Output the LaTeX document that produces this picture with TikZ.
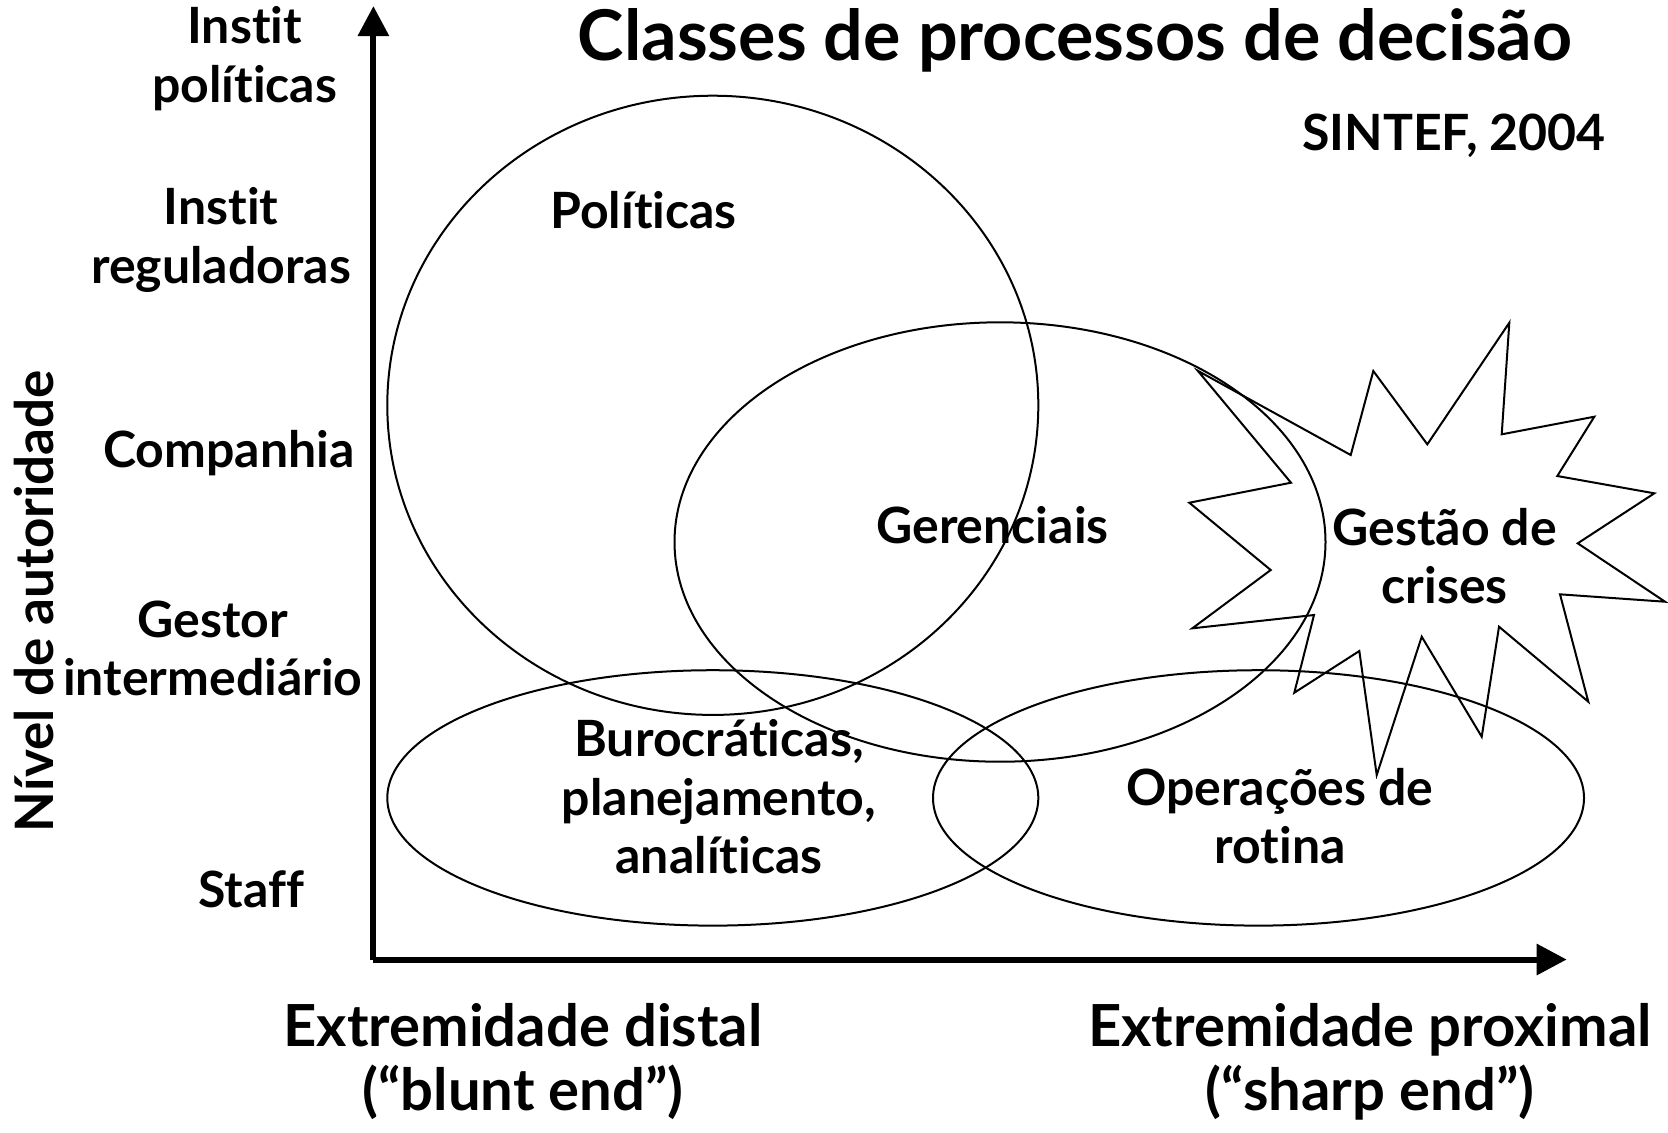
\documentclass[tikz,border=0pt]{standalone}
\usepackage{fontspec}
\setmainfont{Lato}[Ligatures={NoCommon,NoRequired,NoContextual}]
\usetikzlibrary{arrows.meta,shapes.geometric}
\begin{document}
\begin{tikzpicture}[x=0.5pt,y=-0.5pt,
  lbl/.style={font=\bfseries\fontsize{25}{29.25}\selectfont, align=center, inner sep=0pt},
  big/.style={font=\bfseries\fontsize{29}{32}\selectfont, align=center, inner sep=0pt},
  ttl/.style={font=\bfseries\fontsize{35}{40}\selectfont, inner sep=0pt},
  src/.style={font=\bfseries\fontsize{25}{26}\selectfont, inner sep=0pt},
  region/.style={ellipse, draw, line width=1pt, inner sep=0pt},
  axis/.style={line width=3pt, -{Triangle[width=15pt,length=15pt]}}]
\useasboundingbox (0,0) rectangle (1668,1132);
% regions
\node[region, minimum width=325.5pt, minimum height=309.6pt] (pol) at (712.8,405.3) {};
\node[region, minimum width=325.5pt, minimum height=219.7pt] (ger) at (1000,542) {};
\node[region, minimum width=325.5pt, minimum height=127.7pt] (bur) at (712.8,797.9) {};
\node[region, minimum width=325.5pt, minimum height=127.7pt] (ope) at (1258.5,797.9) {};
% crisis star
\draw[line width=1pt, line join=miter] (1509.3,322.7) -- (1501.7,434.3) -- (1594.3,416.7) -- (1557.3,476) -- (1654.3,493.3) -- (1577.7,543.3) -- (1665,601.7) -- (1560,594.3) -- (1588.3,701.7) -- (1499,626.7) -- (1481.7,736.7) -- (1421.7,636.7) -- (1376.7,775) -- (1359.3,651) -- (1294.3,692.7) -- (1314,615) -- (1192.3,628.3) -- (1270.7,570) -- (1189.3,502.7) -- (1291,482.7) -- (1197.7,370.7) -- (1350.7,455) -- (1373.3,371) -- (1427.3,444.3) -- cycle;
% axes
\coordinate (origin) at (373.4,959.5);
\coordinate (ytop) at (373.4,6);
\coordinate (xend) at (1566.7,959.5);
\draw[axis] (origin) -- (ytop);
\draw[axis] (origin) -- (xend);
% texts
\node[ttl] (title) at (1075,40) {Classes de processos de decisão};
\node[src] (source) at (1454,136) {SINTEF, 2004};
\node[lbl] (l1) at (244.7,58.5) {Instit\\políticas};
\node[lbl] (l2) at (221,240) {Instit\\reguladoras};
\node[lbl] (l3) at (228.7,453) {Companhia};
\node[lbl] (l4) at (212.8,648.5) {Gestor\\intermediário};
\node[lbl] (l5) at (251,889) {Staff};
\node[lbl, font=\bfseries\fontsize{26.5}{30}\selectfont, rotate=90] (yl) at (34,601) {Nível de autoridade};
\node[lbl] (tpol) at (643.6,210.6) {Políticas};
\node[lbl] (tger) at (992.5,525.5) {Gerenciais};
\node[lbl] (tcri) at (1444.6,556.3) {Gestão de\\crises};
\node[lbl] (tbur) at (719,797) {Burocráticas,\\planejamento,\\analíticas};
\node[lbl] (tope) at (1280,816) {Operações de\\rotina};
\node[big] (xl1) at (523,1062) {Extremidade distal\\(“blunt end”)};
\node[big] (xl2) at (1370,1062) {Extremidade proximal\\(“sharp end”)};
\end{tikzpicture}
\end{document}
